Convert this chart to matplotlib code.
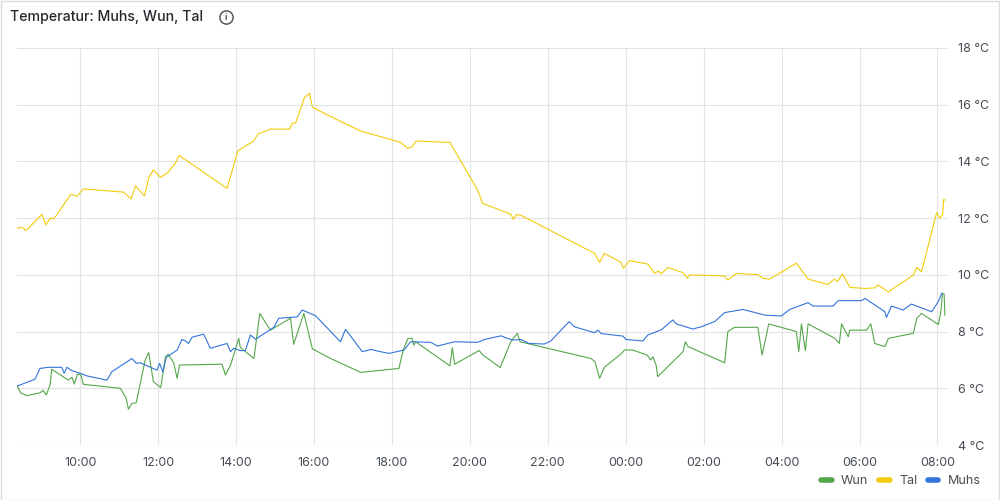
import matplotlib
matplotlib.use("Agg")
import matplotlib.pyplot as plt
from matplotlib.lines import Line2D
from matplotlib.patches import Rectangle

plt.rcParams['font.family'] = ['Inter', 'DejaVu Sans']

# time in hours since midnight of the first day (24+ = next day)
tal_h = [8.39, 8.48, 8.53, 8.61, 9.02, 9.12, 9.23, 9.33, 9.76, 9.92, 10.08, 11.11, 11.31, 11.42,
         11.65, 11.77, 11.88, 12.06, 12.23, 12.44, 12.54, 13.77, 14.05, 14.45, 14.57, 14.88, 15.38,
         15.44, 15.53, 15.76, 15.89, 15.96, 16.43, 17.20, 18.23, 18.41, 18.52, 18.62, 19.49, 20.20,
         20.33, 21.05, 21.12, 21.20, 21.31, 23.20, 23.33, 23.45, 23.88, 23.94, 24.10, 24.57, 24.74,
         24.84, 24.91, 25.08, 25.47, 25.58, 25.64, 26.54, 26.62, 26.84, 27.39, 27.52, 27.69, 28.38,
         28.68, 29.19, 29.35, 29.43, 29.56, 29.75, 30.14, 30.39, 30.48, 30.74, 31.38, 31.47, 31.59,
         31.98, 32.06, 32.13, 32.16, 32.19]
tal_t = [11.64, 11.68, 11.66, 11.56, 12.13, 11.76, 12.00, 11.98, 12.84, 12.77, 13.03, 12.92, 12.68, 13.14,
         12.78, 13.46, 13.70, 13.44, 13.58, 13.93, 14.21, 13.05, 14.38, 14.72, 14.97, 15.14, 15.14,
         15.34, 15.36, 16.26, 16.40, 15.91, 15.58, 15.07, 14.67, 14.46, 14.52, 14.72, 14.67, 12.99,
         12.52, 12.14, 11.96, 12.13, 12.10, 10.76, 10.44, 10.76, 10.44, 10.23, 10.50, 10.38, 10.05,
         10.14, 10.03, 10.26, 10.08, 9.88, 10.00, 9.96, 9.82, 10.05, 10.01, 9.88, 9.85, 10.41,
         9.85, 9.66, 9.85, 9.76, 10.03, 9.56, 9.52, 9.54, 9.64, 9.40, 9.99, 10.26, 10.11,
         12.20, 11.99, 12.13, 12.66, 12.64]

muhs_h = [8.39, 8.84, 8.97, 9.19, 9.53, 9.59, 9.66, 9.79, 10.00, 10.19, 10.69, 10.81, 11.33, 11.44,
          11.54, 11.97, 12.04, 12.12, 12.21, 12.49, 12.61, 12.70, 12.78, 12.87, 13.17, 13.34, 13.77,
          13.86, 13.94, 14.11, 14.24, 14.37, 14.50, 14.97, 15.10, 15.57, 15.70, 16.04, 16.43, 16.68,
          16.81, 17.24, 17.46, 17.71, 17.93, 18.31, 18.48, 19.00, 19.17, 19.60, 20.20, 20.37, 20.80,
          20.89, 21.10, 21.31, 21.52, 21.91, 22.08, 22.38, 22.55, 22.68, 23.20, 23.28, 23.37, 23.93,
          24.01, 24.44, 24.57, 24.91, 25.21, 25.30, 25.72, 25.94, 26.28, 26.54, 27.01, 27.57, 27.99,
          28.21, 28.68, 28.81, 29.32, 29.45, 30.05, 30.14, 30.65, 30.69, 30.82, 31.12, 31.33, 31.85,
          32.02, 32.11]
muhs_t = [6.08, 6.32, 6.70, 6.74, 6.74, 6.53, 6.74, 6.62, 6.53, 6.43, 6.29, 6.58, 7.05, 6.88,
          6.90, 6.64, 6.88, 6.58, 7.09, 7.35, 7.72, 7.67, 7.58, 7.80, 7.91, 7.41, 7.58,
          7.29, 7.41, 7.33, 7.33, 7.88, 7.73, 8.15, 8.47, 8.52, 8.76, 8.56, 8.00, 7.64,
          8.08, 7.29, 7.37, 7.29, 7.23, 7.35, 7.64, 7.62, 7.49, 7.64, 7.62, 7.72, 7.85,
          7.80, 7.70, 7.72, 7.58, 7.56, 7.67, 8.11, 8.35, 8.17, 7.96, 8.05, 7.93, 7.84,
          7.72, 7.67, 7.88, 8.06, 8.41, 8.27, 8.09, 8.17, 8.35, 8.67, 8.78, 8.58, 8.55,
          8.78, 9.02, 8.90, 8.90, 9.09, 9.09, 9.17, 8.70, 8.50, 8.90, 8.76, 8.97, 8.70,
          9.05, 9.35]

wun_h = [8.39, 8.47, 8.54, 8.63, 8.97, 9.05, 9.13, 9.23, 9.27, 9.70, 9.79, 9.85, 9.93, 10.02,
         10.08, 11.03, 11.11, 11.18, 11.24, 11.33, 11.44, 11.67, 11.76, 11.88, 12.07, 12.19, 12.26,
         12.40, 12.49, 12.55, 13.64, 13.73, 13.86, 14.07, 14.11, 14.46, 14.61, 14.88, 15.40, 15.48,
         15.74, 15.96, 16.43, 17.20, 18.18, 18.29, 18.41, 18.52, 18.56, 18.61, 19.49, 19.55, 19.61,
         20.24, 20.33, 20.78, 21.05, 21.22, 21.29, 23.11, 23.21, 23.33, 23.45, 23.88, 23.97, 24.18,
         24.55, 24.64, 24.70, 24.78, 24.82, 24.91, 25.47, 25.53, 25.60, 26.54, 26.62, 26.79, 27.39,
         27.50, 27.67, 28.38, 28.44, 28.51, 28.61, 28.68, 29.37, 29.48, 29.54, 29.71, 29.75, 30.18,
         30.29, 30.39, 30.65, 30.74, 31.38, 31.47, 31.59, 32.02, 32.08, 32.13, 32.17, 32.19]
wun_t = [6.08, 5.84, 5.80, 5.74, 5.84, 5.93, 5.76, 6.12, 6.67, 6.29, 6.39, 6.15, 6.50, 6.47,
         6.14, 6.00, 5.82, 5.65, 5.26, 5.47, 5.49, 7.00, 7.26, 6.23, 6.03, 7.11, 7.20,
         6.90, 6.35, 6.82, 6.85, 6.47, 6.82, 7.76, 7.44, 7.05, 8.64, 8.05, 8.47, 7.55,
         8.64, 7.39, 7.05, 6.56, 6.70, 7.35, 7.76, 7.76, 7.52, 7.64, 6.79, 7.43, 6.85,
         7.33, 7.18, 6.73, 7.64, 7.94, 7.64, 7.05, 6.94, 6.35, 6.74, 7.21, 7.35, 7.35,
         7.17, 7.00, 7.11, 6.82, 6.41, 6.53, 7.29, 7.64, 7.47, 6.90, 8.00, 8.15, 8.15,
         7.17, 8.27, 8.00, 7.29, 8.27, 7.33, 8.27, 7.76, 7.58, 8.27, 7.82, 8.05, 8.05,
         8.27, 7.58, 7.47, 7.76, 7.94, 8.47, 8.64, 8.25, 8.64, 9.35, 9.33, 8.58]

x_ticks = [10, 12, 14, 16, 18, 20, 22, 24, 26, 28, 30, 32]
x_labels = ['10:00', '12:00', '14:00', '16:00', '18:00', '20:00', '22:00',
            '00:00', '02:00', '04:00', '06:00', '08:00']
y_ticks = [4, 6, 8, 10, 12, 14, 16, 18]
y_labels = [f'{t} °C' for t in y_ticks]

green = '#56A64B'
yellow = '#F2CC0C'
blue = '#3274D9'
text_col = '#464c54'

fig = plt.figure(figsize=(10, 5), dpi=100)
ax = fig.add_axes([0.017, 0.11, 0.931, 0.794])

ax.plot(tal_h, tal_t, color=yellow, lw=0.8)
ax.plot(wun_h, wun_t, color=green, lw=0.8)
ax.plot(muhs_h, muhs_t, color=blue, lw=0.8)

ax.set_xlim(8.38, 32.27)
ax.set_ylim(4, 18)
ax.set_xticks(x_ticks)
ax.set_xticklabels(x_labels)
ax.set_yticks(y_ticks)
ax.set_yticklabels(y_labels)
ax.yaxis.tick_right()
ax.tick_params(axis='both', length=0, labelsize=9, colors=text_col)
ax.tick_params(axis='x', pad=9)
ax.tick_params(axis='y', pad=7)
for s in ax.spines.values():
    s.set_visible(False)
ax.grid(True, color='#e3e3e3', lw=0.8)
ax.set_axisbelow(True)

# panel title + info icon
fig.text(0.01, 0.966, 'Temperatur: Muhs, Wun, Tal', fontsize=10.2, color='#24292e',
         weight='medium', va='center', ha='left')
fig.add_artist(Line2D([0.226], [0.966], marker='o', ms=9.5, mfc='none', mec='#555a60',
                      mew=1.1, transform=fig.transFigure))
fig.text(0.226, 0.965, 'i', fontsize=6.5, color='#555a60', weight='bold',
         ha='center', va='center')

# panel border
fig.add_artist(Rectangle((0.0005, 0.001), 0.998, 0.997, fill=False, ec='#dcdcdc',
                         lw=1, transform=fig.transFigure))

handles = [Line2D([], [], color=green, lw=4, solid_capstyle='round'),
           Line2D([], [], color=yellow, lw=4, solid_capstyle='round'),
           Line2D([], [], color=blue, lw=4, solid_capstyle='round')]
leg = fig.legend(handles, ['Wun', 'Tal', 'Muhs'], ncol=3, loc='center right',
                 bbox_to_anchor=(0.987, 0.038), frameon=False, fontsize=9,
                 handlelength=0.85, handletextpad=0.75, columnspacing=0.85,
                 borderpad=0)
for t in leg.get_texts():
    t.set_color(text_col)

fig.savefig('out.png', dpi=100, facecolor='white')
